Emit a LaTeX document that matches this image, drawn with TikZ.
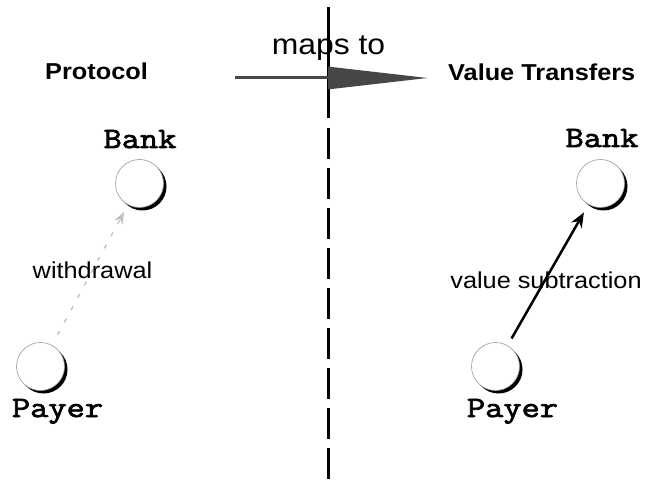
\documentclass[tikz,border=0pt]{standalone}
\usepackage{fontspec}
\usetikzlibrary{arrows.meta}
\newfontfamily\lblfont{Liberation Sans}[FakeStretch=1.1]
\newfontfamily\monofont{Latin Modern Mono}[FakeStretch=1.2,FakeBold=2.5]
\tikzset{
  lbl/.style={inner sep=0pt, anchor=base, font=\lblfont\fontsize{23}{27}\selectfont},
  head/.style={inner sep=0pt, anchor=base west, font=\lblfont\bfseries\fontsize{23}{27}\selectfont},
  party/.style={inner sep=0pt, anchor=base, font=\monofont\fontsize{29.5}{33}\selectfont},
  ball/.style={circle, minimum size=48pt, inner sep=0pt, draw=black!40, line width=0.6pt, fill=white,
    preaction={fill=black, transform canvas={shift={(3pt,-3pt)}}}},
  divider/.style={line width=3pt, black},
}
\begin{document}
\begin{tikzpicture}[x=1pt,y=-1pt]
\useasboundingbox (0,0) rectangle (645,481);
% divider
\coordinate (vt) at (328,7);
\coordinate (vm) at (328,118);
\coordinate (vd) at (328,128);
\coordinate (vb) at (328,481);
\draw[divider] (vt) -- (vm);
\draw[divider, dash pattern=on 31pt off 9pt] (vd) -- (vb);
% maps to arrow
\coordinate (ms) at (235,78);
\coordinate (me) at (428,78);
\draw[line width=3pt, black!72, -{Triangle[length=100pt,width=22pt]}] (ms) -- (me);
\node[lbl, font=\lblfont\fontsize{29}{33}\selectfont] (maps) at (328.5,55) {maps to};
% headings
\node[head] (proto) at (45,80) {Protocol};
\node[head] (vtrans) at (448,81) {Value Transfers};
% left side
\node[party] (lbt) at (140,148) {Bank};
\node[ball] (lb) at (139.5,183.5) {};
\node[ball] (lp) at (40.5,366.5) {};
\node[party] (lpt) at (57.5,417) {Payer};
\draw[black!25, line width=1.4pt, dash pattern=on 4pt off 10pt,
  -{Stealth[length=12pt,width=9pt]}, shorten <=12pt, shorten >=8pt] (lp) -- (lb);
\node[lbl] (wd) at (92.5,278) {withdrawal};
% right side
\node[party] (rbt) at (602,147) {Bank};
\node[ball] (rb) at (600.5,183.5) {};
\node[ball] (rp) at (495.5,366.5) {};
\node[party] (rpt) at (512.5,417) {Payer};
\draw[line width=2.5pt, -{Stealth[length=15pt,width=12pt]}, shorten <=8pt, shorten >=9pt] (rp) -- (rb);
\node[lbl] (vs) at (546,288) {value subtraction};
\end{tikzpicture}
\end{document}
